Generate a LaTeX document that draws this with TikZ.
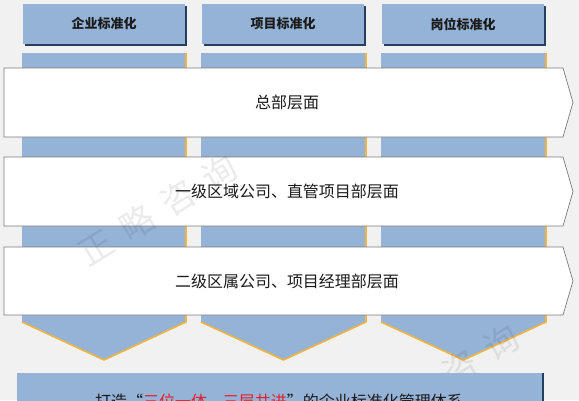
\documentclass[tikz,border=0pt]{standalone}
\usepackage{fontspec}
\setmainfont{Noto Sans CJK SC}
\usetikzlibrary{shadows}
\definecolor{bgc}{HTML}{F1F1F1}
\definecolor{colblue}{HTML}{95B3D7}
\definecolor{edgeor}{HTML}{F0B540}
\definecolor{navy}{HTML}{243F60}
\definecolor{bordergray}{HTML}{7A7A7A}
\definecolor{txtdark}{HTML}{1A1A1A}
\definecolor{redtxt}{HTML}{E0202A}
\tikzset{
  colbody/.style={fill=colblue},
  coledge/.style={draw=edgeor, line width=1.6pt, line join=round},
  hdr/.style={fill=colblue, minimum width=162pt, minimum height=40pt, inner sep=0pt,
     font=\fontsize{13}{13}\selectfont\bfseries, text=txtdark,
     drop shadow={shadow xshift=1.6pt, shadow yshift=-1.6pt, fill=navy, opacity=1}},
  banner/.style={fill=white, draw=bordergray, line width=0.7pt},
  bantext/.style={font=\fontsize{16}{16}\selectfont, text=txtdark, inner sep=0pt},
  wmark/.style={font=\fontsize{34}{34}\selectfont, text=black, opacity=0.08, inner sep=0pt},
  bottombox/.style={fill=colblue, drop shadow={shadow xshift=1.6pt, shadow yshift=0pt, fill=navy, opacity=1}}
}
\begin{document}
\begin{tikzpicture}[x=1pt,y=-1pt]
\useasboundingbox (0,0) rectangle (579,400);
\fill[bgc] (0,0) rectangle (579,400);
\clip (0,0) rectangle (579,400);
% column bodies (chevrons)
\foreach \xa/\xb/\xm in {22/186/104, 201/366/283.5, 381/546/463.5}{
  \fill[colbody] (\xa,53) -- (\xb,53) -- (\xb,322) -- (\xm,360) -- (\xa,322) -- cycle;
  \draw[coledge] (\xb,53) -- (\xb,322) -- (\xm,360) -- (\xa,322);
}
% headers
\node[hdr] (h1) at (104,24) {企业标准化};
\node[hdr] (h2) at (283,24) {项目标准化};
\node[hdr] (h3) at (463,24) {岗位标准化};
% banners
\draw[banner] (4,68) -- (563,68) -- (573,102.5) -- (563,137) -- (4,137) -- cycle;
\node[bantext] (b1) at (287,102.5) {总部层面};
\draw[banner] (4,157) -- (563,157) -- (573,191.5) -- (563,226) -- (4,226) -- cycle;
\node[bantext] (b2) at (287,191.5) {一级区域公司、直管项目部层面};
\draw[banner] (4,247) -- (563,247) -- (573,281) -- (563,315) -- (4,315) -- cycle;
\node[bantext] (b3) at (287,281) {二级区属公司、项目经理部层面};
% second watermark, partly hidden by the bottom box
\node[wmark, rotate=31.5] (w2) at (440,380) {正\hspace{14pt}略\hspace{14pt}咨\hspace{14pt}询};
% bottom box
\path[bottombox] (17,373) rectangle (542,430);
\node[bantext] (bt) at (279,401) {打造“{\color{redtxt}三位一体、三层共进}”的企业标准化管理体系};
% watermark
\node[wmark, rotate=31.5] (w1) at (158,210) {正\hspace{14pt}略\hspace{14pt}咨\hspace{14pt}询};
\end{tikzpicture}
\end{document}
